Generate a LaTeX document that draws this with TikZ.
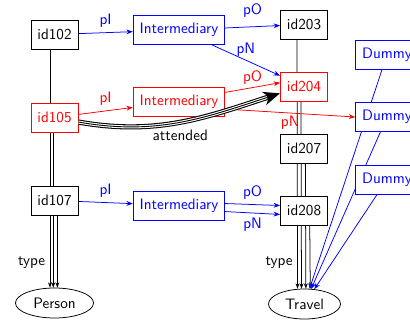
\documentclass[tikz,border=0pt]{standalone}
\usetikzlibrary{arrows.meta,shapes.geometric,backgrounds}
\begin{document}
\begin{tikzpicture}[x=0.66pt,y=-0.66pt, font=\sffamily,
  box/.style={draw, fill=white, rectangle, inner xsep=4.3pt, inner ysep=0pt, minimum height=19.1pt, line width=0.5pt},
  blk/.style={box, draw=black, text=black},
  rd/.style={box, draw=red, text=red},
  bl/.style={box, draw=blue, text=blue},
  cls/.style={draw, ellipse, fill=white, inner sep=0pt, minimum height=19.8pt, line width=0.5pt},
  arr/.style={-{Stealth[length=4.2pt,width=3.2pt]}, line width=0.5pt},
  barr/.style={arr, blue},
  rarr/.style={arr, red},
  typearr/.style={-{Stealth[length=3.5pt,width=2.6pt]}, line width=0.5pt, black},
  lbl/.style={inner sep=2pt}
]
\useasboundingbox (0,0) rectangle (410,321);
\clip (0,0) rectangle (410,321);

% left column
\node[blk] (id102) at (54.5,34.5) {id102};
\node[rd]  (id105) at (54.5,117.5) {id105};
\node[blk] (id107) at (54.5,200.5) {id107};
\node[cls, minimum width=51.5pt] (Person) at (54.5,303) {Person};

% intermediaries
\node[bl] (I1) at (179,30) {Intermediary};
\node[rd] (I2) at (179,101.5) {Intermediary};
\node[bl] (I3) at (179,205.5) {Intermediary};

% right column
\node[blk] (id203) at (304,24.5) {id203};
\node[rd]  (id204) at (304,86.5) {id204};
\node[blk] (id207) at (304,148.5) {id207};
\node[blk] (id208) at (304,210.5) {id208};
\node[cls, minimum width=47.5pt] (Travel) at (304.5,304) {Travel};

% dummies
\node[bl] (D1) at (387,54.5) {Dummy};
\node[bl] (D2) at (387,117) {Dummy};
\node[bl] (D3) at (387,179.5) {Dummy};

\begin{pgfonlayer}{background}
  % type edges to Person
  \draw[typearr] ([xshift=-3pt]id102.south) -- node[pos=0.895, left, inner sep=3pt, text=black] {type} ([xshift=-3pt]Person.north);
  \draw[typearr] ([xshift=-0.8pt]id105.south) -- ([xshift=-0.8pt]Person.north);
  \draw[typearr] ([xshift=1.9pt]id107.south) -- ([xshift=1.9pt]Person.north);
  % type edges to Travel
  \draw[typearr] ([xshift=-4.6pt]id203.south) -- node[pos=0.896, left, inner sep=3pt, text=black] {type} ([xshift=-4.6pt]Travel.north);
  \draw[typearr] ([xshift=-2pt]id204.south) -- ([xshift=-2pt]Travel.north);
  \draw[typearr] ([xshift=0.9pt]id207.south) -- ([xshift=0.9pt]Travel.north);
  \draw[typearr] ([xshift=3.8pt]id208.south) -- ([xshift=3.8pt]Travel.north);
  % dummy edges
  \draw[barr] (D1) -- (Travel);
  \draw[barr] (D2) -- (Travel);
  \draw[barr] (D3) -- (Travel);
\end{pgfonlayer}

% pI edges
\draw[barr] (id102) -- node[above=1.3pt, lbl] {pI} (I1);
\draw[rarr] (id105) -- node[above=1.3pt, lbl] {pI} (I2);
\draw[barr] (id107) -- node[above=1.3pt, lbl] {pI} (I3);

% top intermediary
\draw[barr] (I1) -- node[above=4pt, lbl] {pO} (id203);
\draw[barr] (I1) -- node[above, lbl] {pN} (id204);

% red intermediary
\draw[rarr] ([yshift=6pt]I2.east) -- node[above, lbl] {pO} ([yshift=2.5pt]id204.west);
\draw[rarr] ([yshift=-5pt]I2.east) -- node[below, lbl] {pN} (D2.west);

% bottom intermediary
\draw[barr] ([yshift=1.3pt]I3.east) -- node[above=1pt, lbl] {pO} ([yshift=3.3pt]id208.west);
\draw[barr] ([yshift=-4pt]I3.east) -- node[below=1pt, lbl] {pN} ([yshift=-2.6pt]id208.west);

% attended
\draw[line width=3.4pt, -{Stealth[length=11pt,width=9pt]},
      postaction={draw=white, line width=2pt, -, shorten >=9pt},
      postaction={draw=black, line width=0.6pt, -, shorten >=9pt}]
  ([yshift=-3pt]id105.east) to[out=-10, in=198]
  node[pos=0.5, below=0.5pt, text=black] {attended}
  ([yshift=-4.5pt]id204.west);
\end{tikzpicture}
\end{document}
